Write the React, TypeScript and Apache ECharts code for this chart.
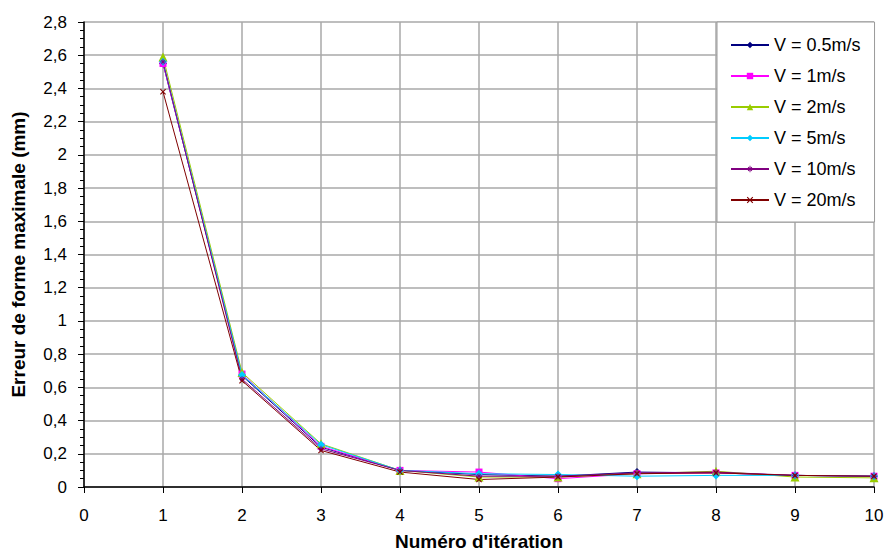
import React, { useEffect, useRef } from "react";
import * as echarts from "echarts";

const iterations = [1, 2, 3, 4, 5, 6, 7, 8, 9, 10];
const seriesNames = ["V = 0.5m/s", "V = 1m/s", "V = 2m/s", "V = 5m/s", "V = 10m/s", "V = 20m/s"];
const v05 = [2.55, 0.67, 0.24, 0.10, 0.075, 0.065, 0.09, 0.085, 0.07, 0.065];
const v1 = [2.55, 0.68, 0.245, 0.10, 0.09, 0.05, 0.08, 0.085, 0.07, 0.065];
const v2 = [2.59, 0.69, 0.26, 0.10, 0.06, 0.06, 0.08, 0.095, 0.06, 0.055];
const v5 = [2.56, 0.675, 0.255, 0.10, 0.08, 0.075, 0.065, 0.07, 0.07, 0.065];
const v10 = [2.56, 0.65, 0.23, 0.10, 0.065, 0.065, 0.085, 0.09, 0.07, 0.065];
const v20 = [2.38, 0.64, 0.22, 0.09, 0.045, 0.06, 0.08, 0.085, 0.07, 0.065];
const seriesValues = [v05, v1, v2, v5, v10, v20];
const colors = ["#000080", "#FF00FF", "#99CC00", "#00CCFF", "#800080", "#800000"];

const STAR =
  "path://M-0.7,-5L0.7,-5L0.7,5L-0.7,5Z" +
  "M-5,-0.7L5,-0.7L5,0.7L-5,0.7Z" +
  "M-3.5,-2.5L-2.5,-3.5L3.5,2.5L2.5,3.5Z" +
  "M2.5,-3.5L3.5,-2.5L-2.5,3.5L-3.5,2.5Z";
const CROSS = "path://M-4,-3L-3,-4L4,3L3,4ZM3,-4L4,-3L-3,4L-4,3Z";
const symbols = ["diamond", "rect", "triangle", "diamond", STAR, CROSS];
const symbolSizes = [8, 7, 9, 8, 6, 6];

export default function App() {
  const ref = useRef<HTMLDivElement>(null);
  useEffect(() => {
    if (!ref.current) return;
    const chart = echarts.init(ref.current, null, { renderer: "svg" });
    const font = "'Liberation Sans', Arial, sans-serif";
    chart.setOption({
      animation: false,
      backgroundColor: "#ffffff",
      textStyle: { fontFamily: font },
      grid: { left: 84, right: 12, top: 22, bottom: 66, containLabel: false, outerBoundsMode: "none" },
      legend: {
        orient: "vertical",
        left: 717,
        top: 22,
        padding: [14, 14, 13, 13],
        itemWidth: 38,
        itemHeight: 8,
        itemGap: 13,
        backgroundColor: "#ffffff",
        borderColor: "#9a9a9a",
        borderWidth: 1,
        textStyle: { fontSize: 18, lineHeight: 18, color: "#000", fontFamily: font, padding: [0, 0, 0, 0] },
        data: seriesNames,
      },
      xAxis: {
        type: "value",
        min: 0,
        max: 10,
        interval: 1,
        name: "Numéro d'itération",
        nameLocation: "middle",
        nameGap: 45,
        nameTextStyle: { fontSize: 19, fontWeight: "bold", color: "#000", fontFamily: font },
        axisLine: { show: true, onZero: false, lineStyle: { color: "#000", width: 1.5 } },
        axisTick: { show: true, length: 6, inside: false, lineStyle: { color: "#000" } },
        axisLabel: { fontSize: 17, color: "#000", margin: 20, fontFamily: font },
        splitLine: { show: true, lineStyle: { color: "#a8a8a8", width: 1.5 } },
      },
      yAxis: {
        type: "value",
        min: 0,
        max: 2.8,
        interval: 0.2,
        name: "Erreur de forme maximale (mm)",
        nameLocation: "middle",
        nameGap: 56,
        nameTextStyle: { fontSize: 19, fontWeight: "bold", color: "#000", fontFamily: font },
        axisLine: { show: true, lineStyle: { color: "#000", width: 1.5 } },
        axisTick: { show: true, length: 6, lineStyle: { color: "#000" } },
        minorTick: { show: true, splitNumber: 4, length: 4, lineStyle: { color: "#000" } },
        axisLabel: {
          fontSize: 17,
          color: "#000",
          margin: 17,
          fontFamily: font,
          formatter: (v: number) => String(Math.round(v * 10) / 10).replace(".", ","),
        },
        splitLine: { show: true, lineStyle: { color: "#a8a8a8", width: 1.5 } },
      },
      series: seriesNames.map((name, i) => ({
        name,
        type: "line",
        data: iterations.map((it, j) => [it, seriesValues[i][j]]),
        symbol: symbols[i],
        symbolSize: symbolSizes[i],
        showAllSymbol: true,
        lineStyle: { color: colors[i], width: 1 },
        itemStyle: { color: colors[i] },
        emphasis: { disabled: true },
      })),
    });
    return () => chart.dispose();
  }, []);
  return (
    <div
      ref={ref}
      style={{ position: "absolute", left: 0, top: 0, width: 886, height: 553 }}
    />
  );
}
